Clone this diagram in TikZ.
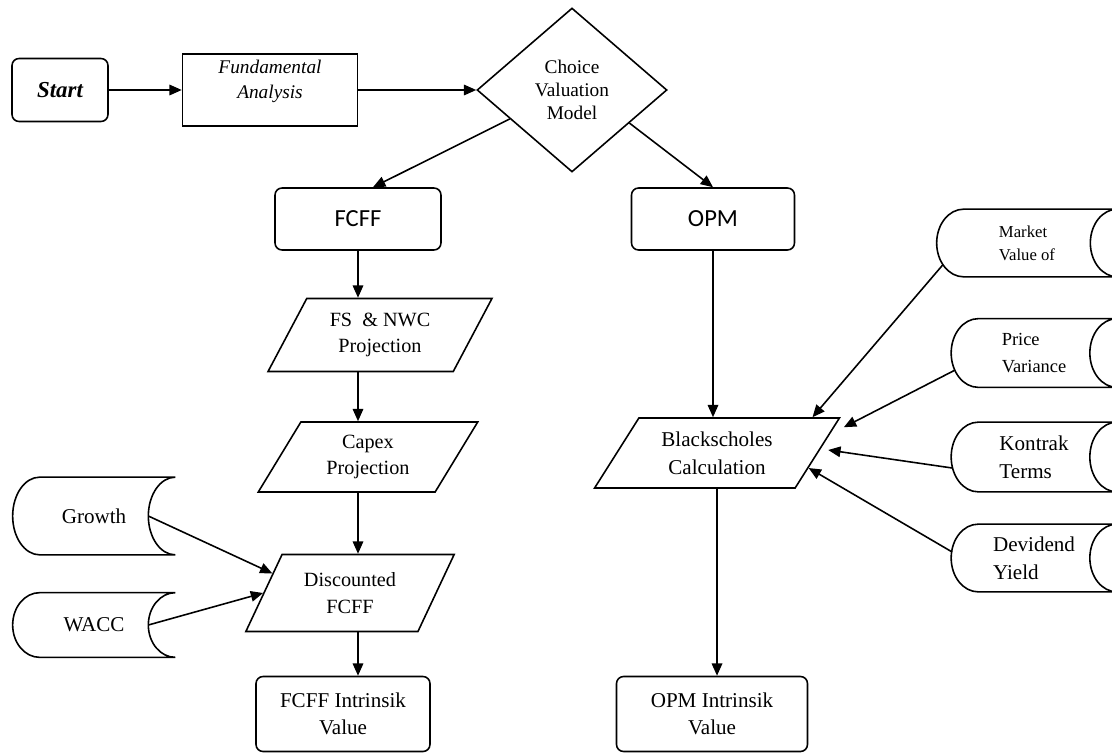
\documentclass[tikz,border=0pt]{standalone}
\usepackage{fontspec}
\setmainfont{Liberation Serif}
\newfontfamily\calibri{Carlito}
\usetikzlibrary{arrows.meta,positioning,shapes.geometric,calc}

\begin{document}
\begin{tikzpicture}[
    x=0.02cm, y=-0.02cm,
    box/.style={
      draw,
      line width=0.9pt,
      rounded corners=4pt,
      align=center,
      inner sep=2pt,
      font=\fontsize{12}{15.5}\selectfont
    },
    io/.style={
      draw,
      line width=0.9pt,
      trapezium,
      trapezium left angle=60,
      trapezium right angle=120,
      trapezium stretches=true,
      align=center,
      inner sep=1pt,
      font=\fontsize{11.5}{15}\selectfont
    },
    store/.style={
      align=left,
      inner sep=0pt,
      font=\fontsize{12}{16}\selectfont
    },
    arrow/.style={-{Triangle[length=7pt,width=6pt]}, line width=0.9pt}
  ]
    \useasboundingbox (0,0) rectangle (1112,754);

    % top row
    \node[box, minimum width=1.92cm, minimum height=1.26cm,
      font=\fontsize{13}{15}\selectfont\bfseries\itshape] (start) at (60,90) {Start};
    \node[box, rounded corners=0pt, minimum width=3.5cm, minimum height=1.44cm, text depth=12pt,
      font=\fontsize{11}{14}\selectfont\itshape] (fa) at (270,90) {Fundamental\\Analysis};
    \node[diamond, draw, line width=0.9pt, minimum width=3.8cm, minimum height=3.28cm,
      align=center, inner sep=0pt, font=\fontsize{11}{13}\selectfont] (dia) at (572,90) {Choice\\Valuation\\Model};

    % FCFF branch
    \node[box, minimum width=3.32cm, minimum height=1.24cm,
      font=\calibri\fontsize{14}{16}\selectfont] (fcff) at (358,219) {FCFF};
    \node[io, minimum width=4.5cm, minimum height=1.46cm] (fs) at (380,335) {FS \ \& NWC\\Projection};
    \node[io, minimum width=4.4cm, minimum height=1.4cm] (capex) at (368,457) {Capex\\Projection};
    \node[io, minimum width=4.2cm, minimum height=1.54cm] (disc) at (350,593) {Discounted\\FCFF};
    \node[box, minimum width=3.48cm, minimum height=1.5cm] (fcffval) at (343,714) {FCFF Intrinsik\\Value};

    \node[store, minimum width=3.24cm, minimum height=1.54cm] (growth) at (94,516) {Growth};
    \node[store, minimum width=3.24cm, minimum height=1.28cm] (wacc) at (94,625) {WACC};

    % OPM branch
    \node[box, minimum width=3.26cm, minimum height=1.24cm,
      font=\calibri\fontsize{14}{16}\selectfont] (opm) at (713,219) {OPM};
    \node[io, trapezium left angle=55, trapezium right angle=125,
      minimum width=4.9cm, minimum height=1.4cm, font=\fontsize{12}{16}\selectfont] (bs) at (717,453) {Blackscholes\\Calculation};
    \node[box, minimum width=3.82cm, minimum height=1.5cm] (opmval) at (712,714) {OPM Intrinsik\\Value};

    \node[store, minimum width=3.6cm, minimum height=1.34cm,
      font=\fontsize{9.5}{13}\selectfont] (mkt) at (1027,243) {Market\\Value of};
    \node[store, minimum width=3.3cm, minimum height=1.36cm,
      font=\fontsize{10.5}{15}\selectfont] (price) at (1034,353) {Price\\Variance};
    \node[store, minimum width=3.3cm, minimum height=1.38cm] (kontrak) at (1034,457) {Kontrak\\Terms};
    \node[store, minimum width=3.3cm, minimum height=1.34cm] (yield) at (1034,558) {Devidend\\Yield};

    % stored data outlines
    \foreach \st in {growth,wacc,mkt,price,kontrak,yield}
      \draw[line width=0.9pt] let \p1=($(\st.north)-(\st.south)$) in
        ([xshift=0.54cm]\st.north west) -- (\st.north east)
        arc[start angle=90, end angle=270, x radius=0.54cm, y radius={0.5*\y1}]
        -- ([xshift=0.54cm]\st.south west)
        arc[start angle=270, end angle=90, x radius=0.54cm, y radius={0.5*\y1}]
        -- cycle;

    \draw[arrow] (start) -- (fa);
    \draw[arrow] (fa) -- (dia);
    \draw[arrow] ($(dia.west)!0.35!(dia.south)$) -- ([xshift=0.3cm]fcff.north);
    \draw[arrow] ($(dia.east)!0.4!(dia.south)$) -- (opm.north);

    \draw[arrow] (fcff.south) -- (fcff.south |- fs.north);
    \draw[arrow] (fcff.south |- fs.south) -- (fcff.south |- capex.north);
    \draw[arrow] (fcff.south |- capex.south) -- (fcff.south |- disc.north);
    \draw[arrow] (fcff.south |- disc.south) -- (fcff.south |- fcffval.north);
    \draw[arrow] ([xshift=-0.54cm]growth.east) -- ($(disc.top left corner)!0.25!(disc.bottom left corner)$);
    \draw[arrow] ([xshift=-0.54cm]wacc.east) -- (disc.west);

    \draw[arrow] (opm.south) -- (opm.south |- bs.north);
    \draw[arrow] (bs.south) -- (bs.south |- opmval.north);
    \draw[arrow] ($(mkt.west)+(6,22)$) -- ($(bs.top left corner)!0.86!(bs.top right corner)$);
    \draw[arrow] ($(price.west)+(4,17)$) -- ($(bs.top right corner)+(3,10)$);
    \draw[arrow] ($(kontrak.west)+(1,11)$) -- ($(bs.east)+(10,-3)$);
    \draw[arrow] ($(yield.west)+(1,-6)$) -- ($(bs.top right corner)!0.71!(bs.bottom right corner)$);
  \end{tikzpicture}
\end{document}
